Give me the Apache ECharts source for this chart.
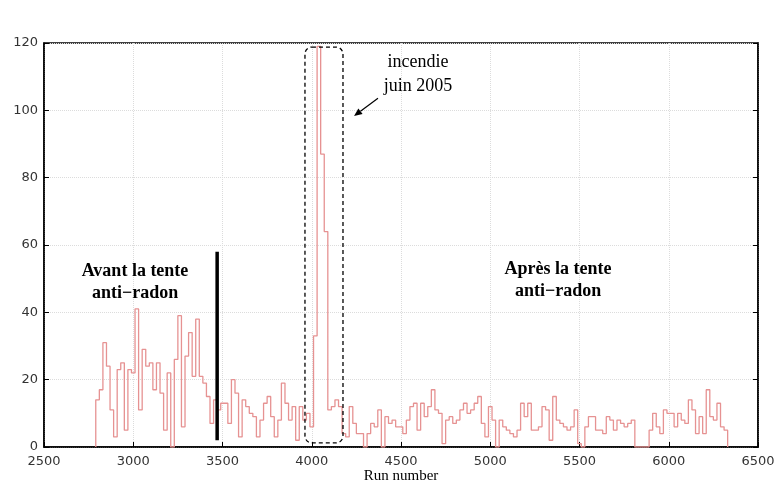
<!DOCTYPE html>
<html><head><meta charset="utf-8">
<script src="https://cdn.jsdelivr.net/npm/echarts@6/dist/echarts.min.js"></script>
<style>html,body{margin:0;padding:0;background:#fff}#c{width:780px;height:481px}</style>
</head><body><div id="c"></div>
<script>
// ---- data ----
const binStart = 2790;   // first run of the histogram
const binWidth = 20;     // runs per bin
const counts = [
  // 2790 - 3490
  14,17,31,24,11,3,23,25,5,23, 22,41,11,29,24,25,17,25,16,5,
  22,0,26,39,6,27,34,21,38,21, 19,15,7,14,11,13,
  // 3510 - 4190
  13,7,20,16,3,14,12,10,9,3, 8,13,15,9,3,8,19,13,8,12,
  2,12,8,10,6,33,119,87,64,11, 12,14,12,4,3,
  // 4210 - 4970
  12,7,4,4,0,4,7,6,11,0, 9,7,8,6,6,4,8,12,13,5,
  13,9,12,17,11,10,1,8,9,7, 8,11,13,10,11,13,15,7,3,
  // 4990 - 5790
  12,8,0,8,6,5,4,3,5,13, 9,13,5,5,6,12,11,2,15,8,
  7,6,5,6,11,1,0,6,9,9, 5,5,4,9,8,5,8,7,6,7,
  8,
  // 5810 - 5890
  0,0,0,0,5,
  // 5910 - 6310
  10,6,4,11,10,10,6,10,8,7, 14,11,4,9,4,17,9,8,13,6,
  5
];
const xRange = [2500, 6500, 500];
const yRange = [0, 120, 20];
const tentLine = [[3470, 2], [3470, 58]];          // "tente anti-radon" marker
const fireBox = [[3962, 1.2], [4175, 118.8]];       // dashed box around the fire peak
const arrowFromTo = [[4371, 103.6], [4237, 98.3]];
const labels = [
  {text: 'Avant la tente\nanti\u2212radon', at: [3010, 49], bold: true},
  {text: 'Apr\u00e8s la tente\nanti\u2212radon', at: [5380, 49.4], bold: true},
  {text: 'incendie\njuin 2005', at: [4595, 110.6], bold: false}
];
const xName = 'Run number';

// ---- chart ----
// histogram outline: each bin becomes a flat top from its left to its right edge
const histData = [[binStart, 0]];
counts.forEach((c, i) => {
  const x0 = binStart + i * binWidth;
  histData.push([x0, c], [x0 + binWidth, c]);
});
histData.push([binStart + counts.length * binWidth, 0]);

const chart = echarts.init(document.getElementById('c'));
const axisBase = {
  axisLine: {show: true, onZero: false, lineStyle: {color: '#000', width: 1.5}},
  axisTick: {show: true, inside: true, length: 5, lineStyle: {color: '#000', width: 1}},
  splitLine: {show: true, lineStyle: {color: '#dcdcdc', type: 'dotted', width: 1}}
};
chart.setOption({
  animation: false,
  grid: {left: 44, right: 22, top: 43, bottom: 34, show: true, borderColor: '#000', borderWidth: 1.5,
         containLabel: false, outerBoundsMode: 'none'},
  xAxis: [Object.assign({
    type: 'value', min: xRange[0], max: xRange[1], interval: xRange[2],
    name: xName, nameLocation: 'middle', nameGap: 22, nameMoveOverlap: false,
    nameTextStyle: {fontFamily: 'Liberation Serif', fontSize: 15, color: '#000'},
    axisLabel: {color: '#333', fontSize: 13, fontFamily: 'DejaVu Sans', margin: 8, formatter: v => String(v)}
  }, axisBase)],
  yAxis: [Object.assign({
    type: 'value', min: yRange[0], max: yRange[1], interval: yRange[2],
    axisLabel: {color: '#333', fontSize: 13, fontFamily: 'DejaVu Sans', margin: 6, formatter: v => String(v)}
  }, axisBase), {
    type: 'value', position: 'right', min: yRange[0], max: yRange[1], interval: yRange[2],
    axisLine: {show: true, lineStyle: {color: '#000', width: 1.5}},
    axisTick: {show: true, inside: true, length: 5, lineStyle: {color: '#000'}},
    axisLabel: {show: false}, splitLine: {show: false}
  }],
  series: [{
    type: 'line', data: histData, symbol: 'none',
    lineStyle: {color: '#e69292', width: 1.3}, z: 3
  }, {
    type: 'line', data: tentLine, symbol: 'none',
    lineStyle: {color: '#000', width: 3.5}, z: 4
  }]
});

const px = p => chart.convertToPixel({xAxisIndex: 0, yAxisIndex: 0}, p);
const graphics = [];
const b0 = px(fireBox[0]), b1 = px(fireBox[1]);
graphics.push({
  type: 'rect', z: 10,
  shape: {x: b0[0], y: b1[1], width: b1[0] - b0[0], height: b0[1] - b1[1], r: 7},
  style: {fill: 'none', stroke: '#000', lineWidth: 1.3, lineDash: [4, 3]}
});
const a0 = px(arrowFromTo[0]), a1 = px(arrowFromTo[1]);
const ang = Math.atan2(a1[1] - a0[1], a1[0] - a0[0]);
const hl = 8, hw = 3.5;
const bx = a1[0] - hl * Math.cos(ang), by = a1[1] - hl * Math.sin(ang);
graphics.push({type: 'line', z: 10, shape: {x1: a0[0], y1: a0[1], x2: bx, y2: by}, style: {stroke: '#000', lineWidth: 1.2}});
graphics.push({type: 'polygon', z: 10, shape: {points: [
  [a1[0], a1[1]],
  [bx + hw * Math.sin(ang), by - hw * Math.cos(ang)],
  [bx - hw * Math.sin(ang), by + hw * Math.cos(ang)]
]}, style: {fill: '#000'}});
labels.forEach(l => {
  const p = px(l.at);
  graphics.push({type: 'text', z: 10, x: p[0], y: p[1], style: {
    text: l.text, align: 'center', verticalAlign: 'middle',
    fontFamily: 'Liberation Serif', fontSize: 18, fontWeight: l.bold ? 'bold' : 'normal',
    lineHeight: l.bold ? 22 : 24, fill: '#000'
  }});
});
chart.setOption({graphic: graphics});
</script></body></html>
